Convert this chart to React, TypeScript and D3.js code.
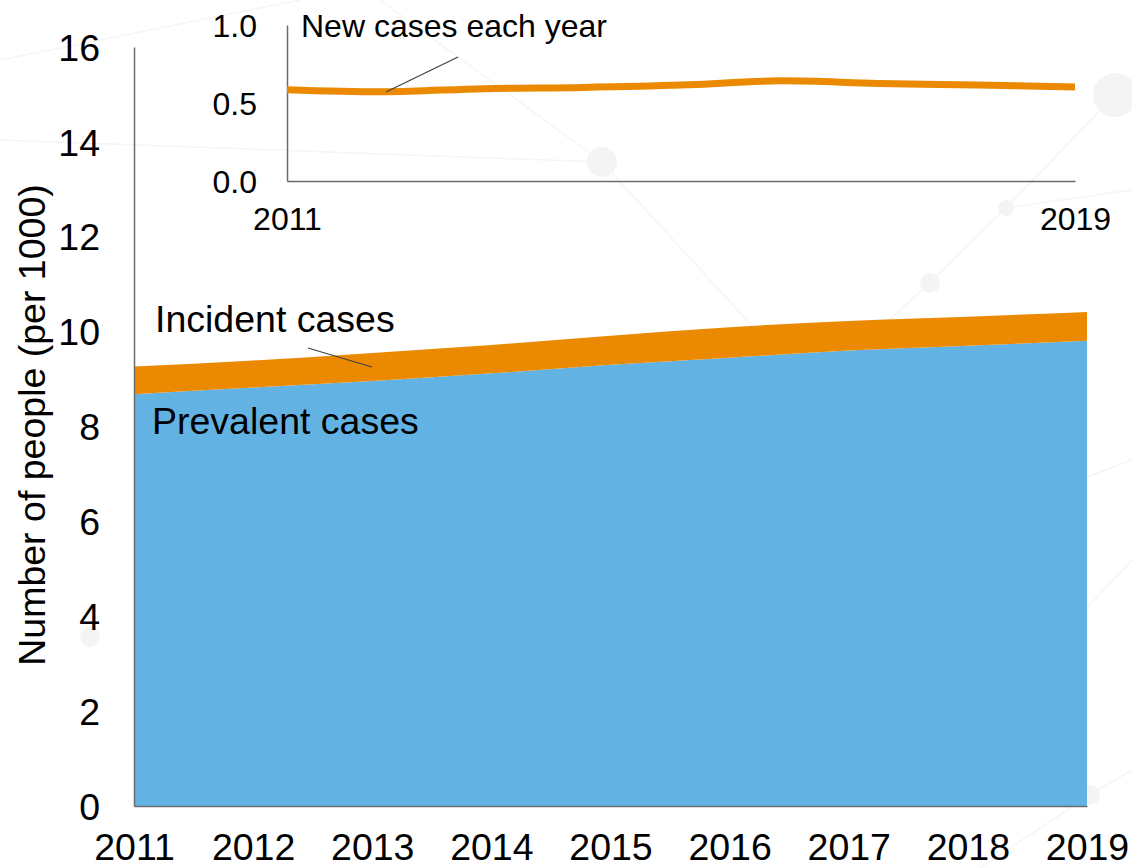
import React, { useEffect, useRef } from 'react'
import * as d3 from 'd3'

// years on both charts
const years = [2011, 2012, 2013, 2014, 2015, 2016, 2017, 2018, 2019]
// prevalent cases per 1000 (blue band)
const prevalent = [8.68, 8.82, 8.96, 9.12, 9.3, 9.45, 9.6, 9.7, 9.81]
// new (incident) cases per 1000 each year (orange band + inset line)
const incident = [0.585, 0.572, 0.592, 0.6, 0.615, 0.642, 0.625, 0.615, 0.603]

const mainYTicks = [0, 2, 4, 6, 8, 10, 12, 14, 16]
const insetYTicks = [0, 0.5, 1]
const insetXTicks = [2011, 2019]

// faint network decoration in the background
const bgNodes: [number, number, number][] = [
    [1115, 95, 22], [602, 162, 15], [1006, 208, 8], [930, 283, 10], [1090, 795, 10], [90, 637, 10]
]
const bgLinks: [number, number, number, number][] = [
    [602, 162, 380, 0], [602, 162, 820, 400], [602, 162, 0, 140], [1115, 95, 1006, 208],
    [1006, 208, 930, 283], [930, 283, 800, 400], [1006, 208, 1132, 190], [1132, 460, 870, 560],
    [1132, 560, 1000, 700], [0, 60, 300, 0], [1090, 795, 1132, 770], [1090, 795, 980, 868]
]

const W = 1132
const H = 868
const FONT = '"Liberation Sans", Arial, sans-serif'
const BLUE = '#62b3e4'
const ORANGE = '#eb8a00'
const AXIS = '#6b6b6b'
const BIG = 37.5
const SMALL = 32

export default function App() {
    const svgRef = useRef<SVGSVGElement | null>(null)

    useEffect(() => {
        const svg = d3.select(svgRef.current)
        svg.selectAll('*').remove()

        // background decoration
        const bg = svg.append('g')
        bg.selectAll('line')
            .data(bgLinks)
            .join('line')
            .attr('x1', d => d[0]).attr('y1', d => d[1])
            .attr('x2', d => d[2]).attr('y2', d => d[3])
            .attr('stroke', '#f5f5f5')
            .attr('stroke-width', 1.5)
        bg.selectAll('circle')
            .data(bgNodes)
            .join('circle')
            .attr('cx', d => d[0]).attr('cy', d => d[1]).attr('r', d => d[2])
            .attr('fill', '#f4f4f4')

        // ---- main stacked area
        const x = d3.scaleLinear().domain([2011, 2019]).range([134, 1087])
        const y = d3.scaleLinear().domain([0, 16]).range([806, 47])

        const rows = years.map((yr, i) => ({ year: yr, prev: prevalent[i], inc: incident[i] }))
        const stack = d3.stack<any>().keys(['prev', 'inc'])(rows)
        const area = d3.area<any>()
            .x(d => x(d.data.year))
            .y0(d => y(d[0]))
            .y1(d => y(d[1]))
            .curve(d3.curveMonotoneX)

        svg.append('g')
            .selectAll('path')
            .data(stack)
            .join('path')
            .attr('d', area as any)
            .attr('fill', (_d, i) => (i === 0 ? BLUE : ORANGE))

        // x axis
        const xAxis = svg.append('g')
            .attr('transform', `translate(0, ${y(0)})`)
            .call(d3.axisBottom(x).tickValues(years).tickFormat(d3.format('d')).tickSize(0).tickPadding(27))
        xAxis.select('.domain').attr('stroke', AXIS).attr('stroke-width', 1.5)
        xAxis.selectAll('text').attr('font-size', BIG).attr('font-family', FONT).attr('fill', '#000')

        // y axis
        const yAxis = svg.append('g')
            .attr('transform', `translate(${x(2011)}, 0)`)
            .call(d3.axisLeft(y).tickValues(mainYTicks).tickSize(0).tickPadding(34))
        yAxis.select('.domain').attr('stroke', AXIS).attr('stroke-width', 1.5)
        yAxis.selectAll('text').attr('font-size', BIG).attr('font-family', FONT).attr('fill', '#000').attr('dy', '0.35em')

        svg.append('text')
            .attr('transform', `translate(45, 425) rotate(-90)`)
            .attr('text-anchor', 'middle')
            .attr('font-size', BIG)
            .attr('font-family', FONT)
            .text('Number of people (per 1000)')

        // labels on the areas
        svg.append('text')
            .attr('x', 155).attr('y', 332)
            .attr('font-size', BIG).attr('font-family', FONT)
            .text('Incident cases')
        svg.append('line')
            .attr('x1', 308).attr('y1', 348)
            .attr('x2', 372).attr('y2', 367)
            .attr('stroke', '#404040').attr('stroke-width', 1.2)
        svg.append('text')
            .attr('x', 152).attr('y', 434)
            .attr('font-size', BIG).attr('font-family', FONT)
            .text('Prevalent cases')

        // ---- inset line chart
        const ix = d3.scaleLinear().domain([2011, 2019]).range([287, 1075])
        const iy = d3.scaleLinear().domain([0, 1]).range([181, 25])

        const ixAxis = svg.append('g')
            .attr('transform', `translate(0, ${iy(0)})`)
            .call(d3.axisBottom(ix).tickValues(insetXTicks).tickFormat(d3.format('d')).tickSize(0).tickPadding(26))
        ixAxis.select('.domain').attr('stroke', AXIS).attr('stroke-width', 1.5)
        ixAxis.selectAll('text').attr('font-size', SMALL).attr('font-family', FONT).attr('fill', '#000')

        const iyAxis = svg.append('g')
            .attr('transform', `translate(${ix(2011)}, 0)`)
            .call(d3.axisLeft(iy).tickValues(insetYTicks).tickFormat(d3.format('.1f')).tickSize(0).tickPadding(30))
        iyAxis.select('.domain').attr('stroke', AXIS).attr('stroke-width', 1.5)
        iyAxis.selectAll('text').attr('font-size', SMALL).attr('font-family', FONT).attr('fill', '#000').attr('dy', '0.35em')

        const line = d3.line<number>()
            .x((_d, i) => ix(years[i]))
            .y(d => iy(d))
            .curve(d3.curveCatmullRom.alpha(0.5))

        svg.append('path')
            .datum(incident)
            .attr('d', line)
            .attr('fill', 'none')
            .attr('stroke', ORANGE)
            .attr('stroke-width', 7)

        svg.append('text')
            .attr('x', 301).attr('y', 37)
            .attr('font-size', SMALL).attr('font-family', FONT)
            .text('New cases each year')
        svg.append('line')
            .attr('x1', 458).attr('y1', 57)
            .attr('x2', 386).attr('y2', 92)
            .attr('stroke', '#404040').attr('stroke-width', 1.2)
    }, [])

    return (
        <svg
            ref={svgRef}
            width={W}
            height={H}
            style={{ position: 'absolute', left: 0, top: 0, background: '#fff' }}
        />
    )
}
